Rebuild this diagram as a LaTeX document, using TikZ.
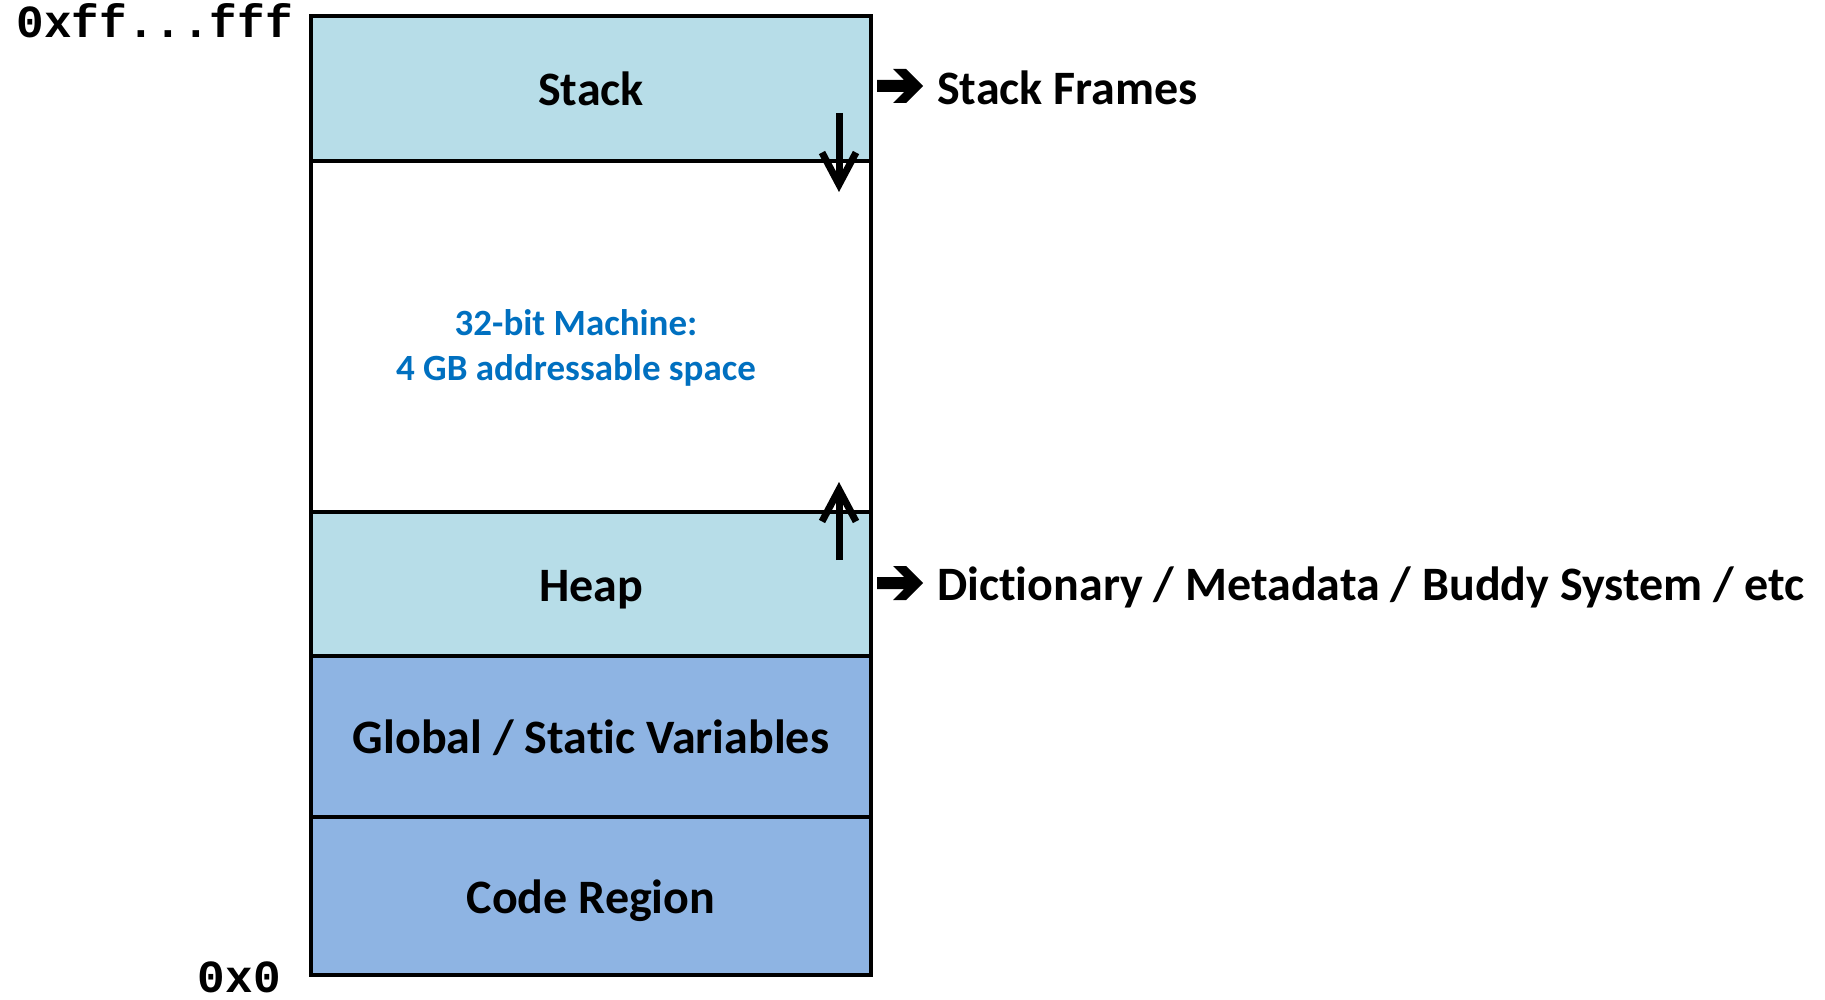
\documentclass[tikz,border=0pt]{standalone}
\usepackage{fontspec}
\setmainfont[Ligatures=NoCommon]{Carlito}
\setmonofont{Liberation Mono}
\usetikzlibrary{arrows.meta}
\definecolor{lightseg}{HTML}{B7DDE8}
\definecolor{darkseg}{HTML}{8EB4E3}
\definecolor{infoblue}{HTML}{0070C0}
\tikzset{
  seg/.style={draw=black, line width=4pt, inner sep=0pt, minimum width=560pt,
    text height=34pt, text depth=0pt,
    font=\fontsize{48}{57}\selectfont\bfseries},
  sidelabel/.style={anchor=base west, inner sep=0pt, font=\fontsize{48}{57}\selectfont\bfseries},
  addr/.style={inner sep=0pt, font=\fontsize{46}{54}\selectfont\ttfamily\bfseries},
  growarrow/.style={line width=7pt, -{Straight Barb[length=32pt,width=34pt,line width=7pt]}},
  chevron/.style={fill=black}
}
\begin{document}
\begin{tikzpicture}[x=1pt,y=-1pt]
\useasboundingbox (0,0) rectangle (1825,1000);
\fill[white] (0,0) rectangle (1825,1000);

\node[seg, fill=lightseg, minimum height=145pt] (stack) at (591,88.5) {Stack};
\node[seg, fill=white, minimum height=351pt] (free) at (591,336.5) {};
\node[seg, fill=lightseg, minimum height=144pt] (heap) at (591,584) {Heap};
\node[seg, fill=darkseg, minimum height=161pt] (global) at (591,736.5) {Global / Static Variables};
\node[seg, fill=darkseg, minimum height=158pt] (code) at (591,896) {Code Region};

\node[inner sep=0pt, align=center, text=infoblue,
  font=\fontsize{37}{45}\selectfont\bfseries] (info) at (576,348) {32-bit Machine:\\4 GB addressable space};

\node[addr, anchor=base east] (top) at (293,38) {0xff...fff};
\node[addr, anchor=base east] (bottom) at (281,992) {0x0};

\node[sidelabel] (frames) at (937,105) {Stack Frames};
\node[sidelabel] (dict) at (937,600) {Dictionary / Metadata / Buddy System / etc};

\coordinate (sa) at (839,113);
\coordinate (sb) at (839,192);
\coordinate (ha) at (839,560);
\coordinate (hb) at (839,482);
\draw[growarrow] (sa) -- (sb);
\draw[growarrow] (ha) -- (hb);

\foreach \cx/\cy in {877/86, 877/583}{
  \fill[chevron] (\cx,\cy) ++(0,-6) -- ++(27,0) -- ++(-11,-11) -- ++(13,0) -- ++(17,17)
     -- ++(-17,17) -- ++(-13,0) -- ++(11,-11) -- ++(-27,0) -- cycle;
}
\end{tikzpicture}
\end{document}
